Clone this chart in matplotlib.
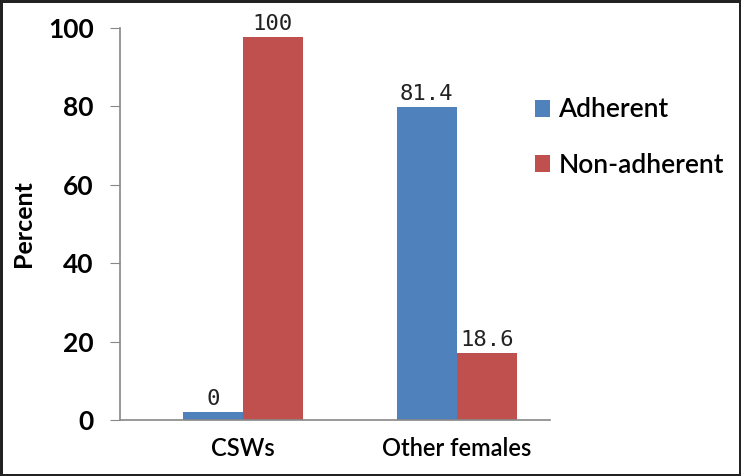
import matplotlib.pyplot as plt
import numpy as np

categories = ["CSWs", "Other females"]
series_names = ["Adherent", "Non-adherent"]
# bar heights as drawn in the picture
adherent = [2.0, 79.8]
non_adherent = [97.7, 17.1]
# printed data labels
adherent_labels = ["0", "81.4"]
non_adherent_labels = ["100", "18.6"]
yticks = [0, 20, 40, 60, 80, 100]

blue = "#4F81BD"
red = "#C0504D"

fig = plt.figure(figsize=(7.41, 4.76), dpi=100)
fig.patch.set_edgecolor("#222222")
fig.patch.set_linewidth(2.5)
ax = fig.add_axes([0.162, 0.1176, 0.580, 0.8234])

x = np.arange(len(categories))
w = 0.28
b1 = ax.bar(x - w / 2, adherent, w, color=blue, label=series_names[0])
b2 = ax.bar(x + w / 2, non_adherent, w, color=red, label=series_names[1])

for bars, labels in [(b1, adherent_labels), (b2, non_adherent_labels)]:
    for r, t in zip(bars, labels):
        ax.annotate(t, (r.get_x() + r.get_width() / 2, r.get_height()),
                    xytext=(0, 2), textcoords="offset points",
                    ha="center", va="bottom", fontsize=16,
                    family="DejaVu Sans Mono", color="#222222")

ax.set_xlim(-0.574, 1.435)
ax.set_ylim(0, 100)
ax.set_yticks(yticks)
ax.set_yticklabels([str(v) for v in yticks], fontsize=19, fontweight="bold", family="Lato")
ax.set_xticks(x)
ax.set_xticklabels(categories, fontsize=17, fontweight="semibold", family="Lato")
ax.tick_params(axis="x", length=0, pad=12)
ax.tick_params(axis="y", length=7, color="#888888", pad=12)

for s in ["top", "right"]:
    ax.spines[s].set_visible(False)
ax.spines["left"].set_color("#888888")
ax.spines["bottom"].set_color("#888888")
ax.spines["left"].set_linewidth(1.2)
ax.spines["bottom"].set_linewidth(1.2)

ax.set_ylabel("Percent", fontsize=18, fontweight="bold", family="Lato", labelpad=9)

ax.legend(loc="upper left", bbox_to_anchor=(0.94, 0.85), frameon=False,
          prop={"family": "Lato", "size": 19, "weight": "semibold"},
          handlelength=0.6, handleheight=0.6,
          handletextpad=0.3, labelspacing=1.15, borderaxespad=0)

plt.savefig("out.png", dpi=100)
